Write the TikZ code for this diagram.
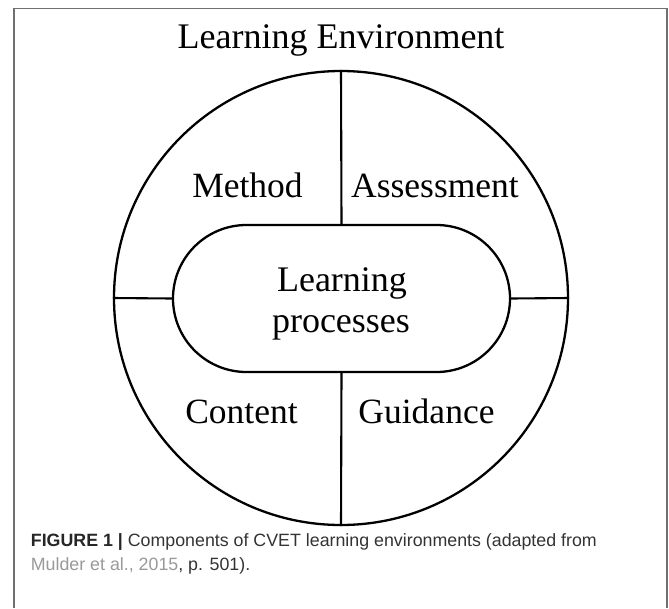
\documentclass[tikz,border=0pt]{standalone}
\usepackage{fontspec}
\setmainfont{Liberation Serif}
\newfontfamily\capfont{Liberation Sans}
\usetikzlibrary{positioning}
\definecolor{framegray}{HTML}{707070}
\definecolor{capgray}{HTML}{333333}
\definecolor{linkgray}{HTML}{999999}
\tikzset{ring/.style={circle,draw=black,line width=2.3pt,minimum size=454pt,inner sep=0pt},
core/.style={rectangle,draw=black,line width=2.3pt,rounded corners=73.5pt,
minimum width=337pt,minimum height=147pt,inner sep=0pt},
part/.style={anchor=base,inner sep=0pt,font=\fontsize{35.5}{35.5}\selectfont},
title/.style={part,font=\fontsize{36}{36}\selectfont},
-/.style={color=black, line width=2.1pt},
caption/.style={anchor=base west,inner sep=0pt,align=left,text=capgray,
font=\capfont\fontsize{17.8}{24}\selectfont}}

\begin{document}
\begin{tikzpicture}[x=1pt,y=-1pt]
  \useasboundingbox (0,0) rectangle (669,608);
  % open frame round figure and caption
  \draw [framegray, line width=1.6pt] (14,608) -- (14,8.5) -- (667,8.5) -- (667,608);

  \node (envtitle) [title] at (341,48) {Learning Environment};
  \node (env) [ring] at (341,298) {};
  \node (proc) [core] at (341.5,298.5) {};

  \draw [-] (env.north) -- (proc.north);
  \draw [-] (proc.south) -- (env.south);
  \draw [-] (env.west) -- (proc.west);
  \draw [-] (proc.east) -- (env.east);

  \node (method) [part] at (247.5,197) {Method};
  \node (assess) [part] at (435,197) {Assessment};
  \node (content) [part] at (241.5,423) {Content};
  \node (guide) [part] at (426.5,423) {Guidance};
  \node (learn) [title] at (342,291) {Learning};
  \node (procs) [title] at (341,332) {processes};

  \node (capt) [caption] at (30.7,570.7) {{\bfseries\color{black!85} FIGURE 1 |} Components of CVET learning environments (adapted from\\
    \textcolor{linkgray}{Mulder et al., 2015}, p. 501).};
\end{tikzpicture}
\end{document}
